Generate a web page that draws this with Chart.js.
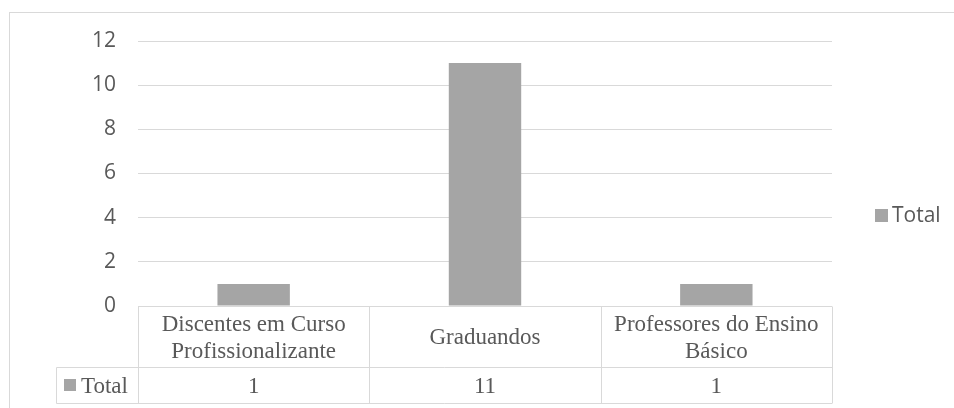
<!DOCTYPE html>
<html>
<head>
<meta charset="utf-8">
<script src="https://cdn.jsdelivr.net/npm/chart.js@4"></script>
<style>
  html, body { margin: 0; padding: 0; background: #fff; }
  #wrap { width: 954px; height: 408px; }
</style>
</head>
<body>
<div id="wrap"><canvas id="grafico" width="954" height="408"></canvas></div>
<script>
const categorias = [
    ["Discentes em Curso", "Profissionalizante"],
    ["Graduandos"],
    ["Professores do Ensino", "Básico"]
];
const totais = [1, 11, 1];
const rotuloSerie = "Total";
const ticksY = [0, 2, 4, 6, 8, 10, 12];

const corBarra = "#a5a5a5";
const corLinha = "#d9d9d9";
const corTexto = "#595959";

// desenha a moldura, a tabela de dados e a legenda
const tabelaPlugin = {
    id: "tabela",
    afterDraw(chart) {
        const c = chart.ctx;
        const x = chart.scales.x;
        const area = chart.chartArea;
        const n = categorias.length;
        const larg = (area.right - area.left) / n;
        const topo = Math.round(area.bottom) + 0.5;
        const meio = topo + 61;
        const base = meio + 36;
        const esq = 56.5;

        c.save();
        c.strokeStyle = corLinha;
        c.lineWidth = 1;
        // moldura externa
        c.strokeRect(9.5, 12.5, 1000, 1000);

        c.beginPath();
        c.moveTo(area.left, topo); c.lineTo(area.right, topo);
        c.moveTo(esq, meio); c.lineTo(area.right, meio);
        c.moveTo(esq, base); c.lineTo(area.right, base);
        c.moveTo(esq, meio); c.lineTo(esq, base);
        for (let i = 0; i <= n; i++) {
            const px = Math.round(area.left + i * larg) + 0.5;
            c.moveTo(px, topo); c.lineTo(px, base);
        }
        c.stroke();

        c.fillStyle = corTexto;
        c.font = "23px 'Liberation Serif'";
        c.textAlign = "center";
        c.textBaseline = "middle";
        categorias.forEach((linhas, i) => {
            const cx = x.getPixelForValue(i);
            const h = 27;
            const y0 = (topo + meio) / 2 - (linhas.length - 1) * h / 2 + 1;
            linhas.forEach((t, k) => c.fillText(t, cx, y0 + k * h));
            c.fillText(String(totais[i]), cx, (meio + base) / 2 + 1);
        });

        // chave da serie na tabela
        c.fillStyle = corBarra;
        c.fillRect(64, 379, 12, 12);
        c.fillStyle = corTexto;
        c.textAlign = "left";
        c.fillText(rotuloSerie, 81, (meio + base) / 2 + 1);

        // legenda
        c.fillStyle = corBarra;
        c.fillRect(875, 209, 13, 13);
        c.fillStyle = corTexto;
        c.font = "21px 'Open Sans'";
        c.fillText(rotuloSerie, 892, 216);
        c.restore();
    }
};

new Chart(document.getElementById("grafico"), {
    type: "bar",
    data: {
        labels: categorias,
        datasets: [{
            label: rotuloSerie,
            data: totais,
            backgroundColor: corBarra,
            barPercentage: 1,
            categoryPercentage: 0.313
        }]
    },
    options: {
        responsive: false,
        animation: false,
        layout: { padding: { left: 0, right: 122, top: 41, bottom: 102 } },
        plugins: { legend: { display: false }, tooltip: { enabled: false } },
        scales: {
            x: { display: false },
            y: {
                min: 0,
                max: 12,
                afterFit(scale) { scale.width = 138; },
                afterBuildTicks(scale) { scale.ticks = ticksY.map(v => ({ value: v })); },
                border: { display: false },
                grid: { color: corLinha, drawTicks: false },
                ticks: {
                    padding: 22,
                    color: corTexto,
                    font: { family: "'Open Sans'", size: 21 }
                }
            }
        }
    },
    plugins: [tabelaPlugin]
});
</script>
</body>
</html>
